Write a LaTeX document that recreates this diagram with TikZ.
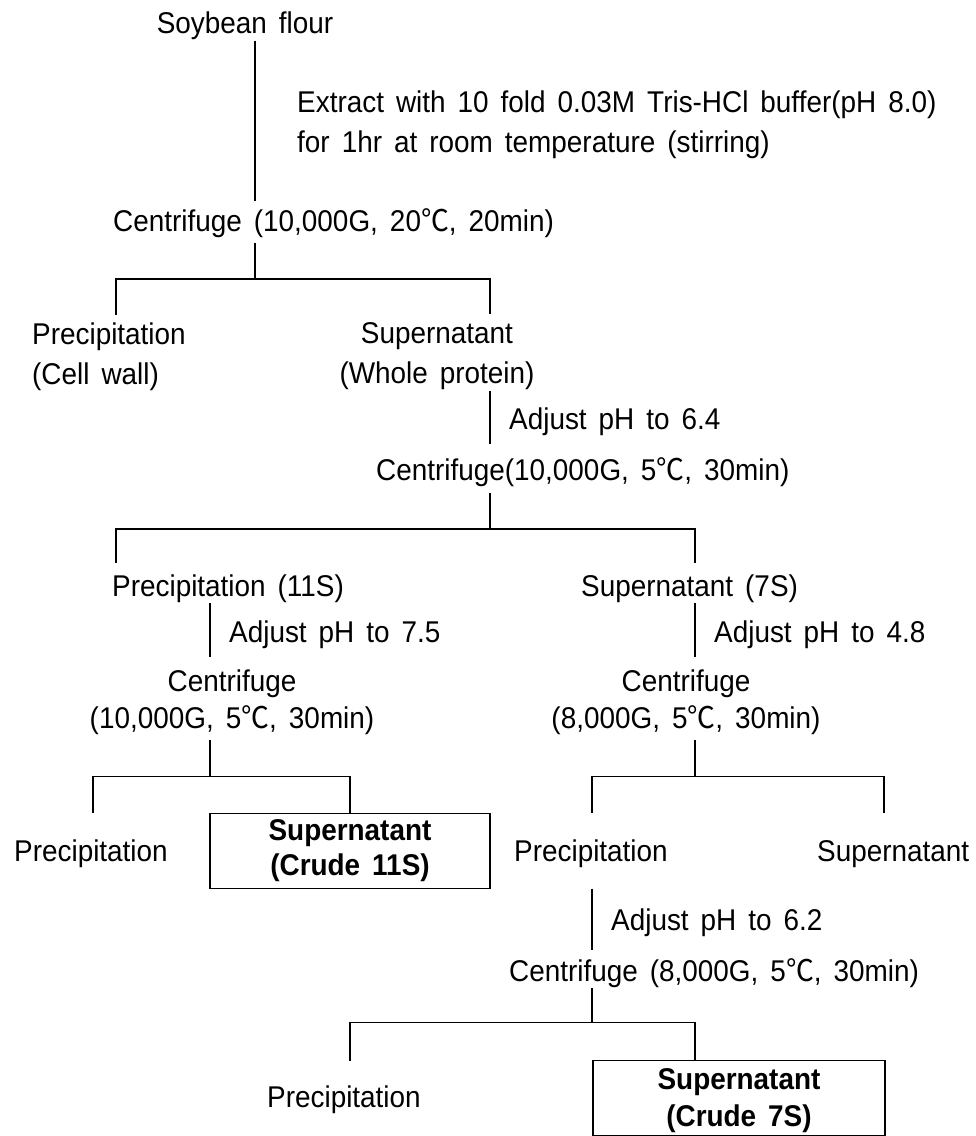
\documentclass[tikz,border=0pt]{standalone}
\usepackage{fontspec}
\setmainfont{Liberation Sans}[FakeStretch=0.93,WordSpace=1.55]
\newfontfamily\cjk{Noto Sans CJK KR}[FakeStretch=0.93]
\usepackage{tikz}
\usetikzlibrary{positioning}
\newcommand{\degc}{{\cjk ℃}}
\newcommand{\flowfont}[1]{\fontsize{30}{#1}\selectfont}
\newcommand{\boxfont}[1]{\fontsize{30}{#1}\selectfont\bfseries}

\begin{document}
\begin{tikzpicture}[x=1pt,y=-1pt,
  every node/.style={inner sep=0pt,font=\flowfont{40}},
  txt/.style={anchor=base west},
  mid/.style={anchor=base},
  twoline/.style={align=center,anchor=north},
  crude/.style={draw,line width=1.2pt},
  tree/.style={line width=1.2pt}]
  \useasboundingbox (0,0) rectangle (976,1136);
  % first extraction
  \node[mid] (soy) at (245,33.3) {Soybean flour};
  \node[align=left,anchor=north west] (extract) at (297,90.6)
    {Extract with 10 fold 0.03M Tris-HCl buffer(pH 8.0)\\for 1hr at room temperature (stirring)};
  \node[txt] (cfa) at (113,231.8) {Centrifuge (10,000G, 20\degc, 20min)};
  \node[align=left,anchor=north west] (preca) at (32,322.4) {Precipitation\\(Cell wall)};
  \node[twoline] (supa) at (437,322.4) {Supernatant\\(Whole protein)};
  \coordinate (soyB) at (255,40.6);
  \coordinate (cfaT) at (255,201);
  \coordinate (cfaB) at (255,242.7);
  \coordinate (cfaJ) at (255,278.9);
  \coordinate (precaT) at (116,315);
  \coordinate (supaT) at (490,314);
  \draw[tree] (soyB) -- (cfaT);
  \draw[tree] (cfaB) -- (cfaJ);
  \draw[tree] (precaT) |- (cfaJ) -| (supaT);
  % pH 6.4
  \node[txt] (adjb) at (509,429.3) {Adjust pH to 6.4};
  \node[txt] (cfb) at (376,480) {Centrifuge(10,000G, 5\degc, 30min)};
  \node[txt] (precb) at (112,596.3) {Precipitation (11S)};
  \node[txt] (supb) at (581,596.3) {Supernatant (7S)};
  \coordinate (supaB) at (490,391);
  \coordinate (cfbT) at (490,443.7);
  \coordinate (cfbB) at (490,492.6);
  \coordinate (cfbJ) at (490,529);
  \coordinate (precbT) at (116,563);
  \coordinate (supbT) at (695,563);
  \draw[tree] (supaB) -- (cfbT);
  \draw[tree] (cfbB) -- (cfbJ);
  \draw[tree] (precbT) |- (cfbJ) -| (supbT);
  % 11S branch
  \node[txt] (adjc) at (229,642.3) {Adjust pH to 7.5};
  \node[twoline,font=\flowfont{37.5}] (cfc) at (232,669.5) {Centrifuge\\(10,000G, 5\degc, 30min)};
  \node[txt] (precc) at (14,861.4) {Precipitation};
  \node[crude,minimum width=280,minimum height=75,align=center,font=\boxfont{35}]
    (crude11) at (350,851.1) {Supernatant\\(Crude 11S)};
  \coordinate (precbB) at (210,603);
  \coordinate (cfcT) at (210,656.7);
  \coordinate (cfcB) at (210,740);
  \coordinate (cfcJ) at (210,776.3);
  \coordinate (preccT) at (93,812.5);
  \draw[tree] (precbB) -- (cfcT);
  \draw[tree] (cfcB) -- (cfcJ);
  \draw[tree] (preccT) |- (cfcJ) -| (crude11.north);
  % 7S branch
  \node[txt] (adjd) at (714,642.3) {Adjust pH to 4.8};
  \node[twoline,font=\flowfont{37.5}] (cfd) at (686,669.5) {Centrifuge\\(8,000G, 5\degc, 30min)};
  \node[txt] (precd) at (514,861.4) {Precipitation};
  \node[txt] (supd) at (817,861.4) {Supernatant};
  \coordinate (supbB) at (695,603);
  \coordinate (cfdT) at (695,656.7);
  \coordinate (cfdB) at (695,740);
  \coordinate (cfdJ) at (695,776.3);
  \coordinate (precdT) at (592,812.5);
  \coordinate (supdT) at (884,812.5);
  \draw[tree] (supbB) -- (cfdT);
  \draw[tree] (cfdB) -- (cfdJ);
  \draw[tree] (precdT) |- (cfdJ) -| (supdT);
  % pH 6.2
  \node[txt] (adje) at (611,930.2) {Adjust pH to 6.2};
  \node[txt] (cfe) at (509,981) {Centrifuge (8,000G, 5\degc, 30min)};
  \node[txt] (prece) at (267,1107.7) {Precipitation};
  \node[crude,minimum width=292,minimum height=74.8] (crude7) at (739,1098) {};
  \node[twoline,font=\boxfont{37}] (crude7txt) at (739,1068.3) {Supernatant\\(Crude 7S)};
  \coordinate (precdB) at (592,888.6);
  \coordinate (cfeT) at (592,950.2);
  \coordinate (cfeB) at (592,988);
  \coordinate (cfeJ) at (592,1022.6);
  \coordinate (preceT) at (350,1060.6);
  \coordinate (crude7J) at (695,1022.6);
  \draw[tree] (precdB) -- (cfeT);
  \draw[tree] (cfeB) -- (cfeJ);
  \draw[tree] (preceT) |- (cfeJ) -- (crude7J) -- (crude7J |- crude7.north);
\end{tikzpicture}
\end{document}
